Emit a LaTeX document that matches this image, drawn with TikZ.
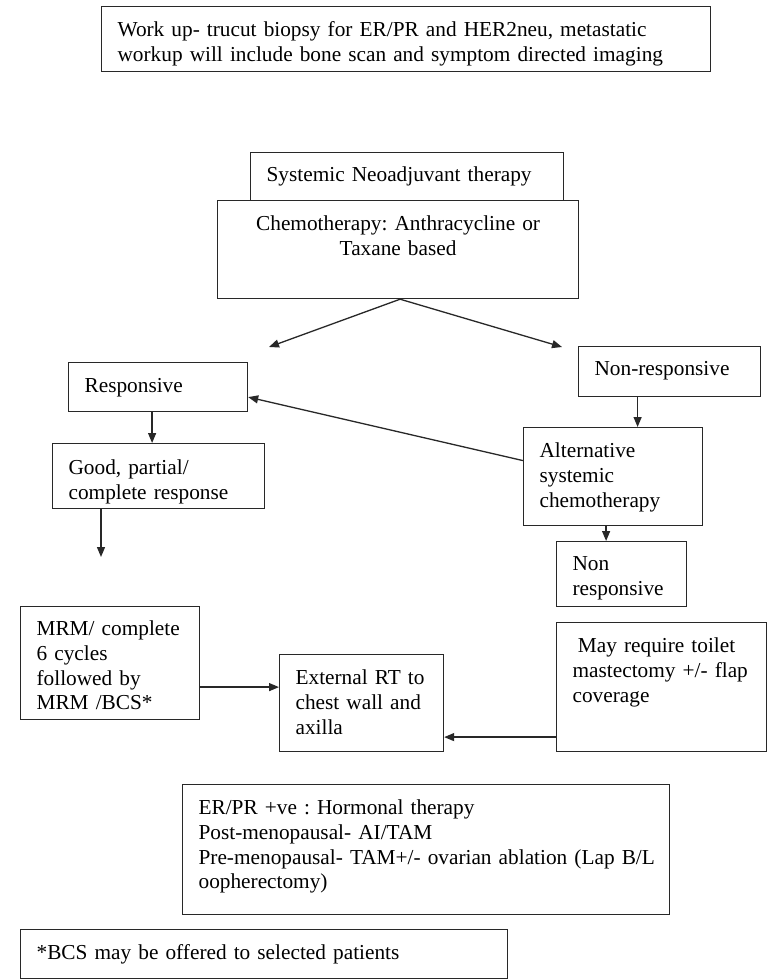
\documentclass[tikz,border=0pt]{standalone}
\usepackage{fontspec}
\setmainfont{Liberation Serif}
\usetikzlibrary{positioning,arrows.meta}
\definecolor{lineColor}{RGB}{40,40,40}
\tikzstyle{chart} = [x = 1pt, y = -1pt]
\tikzstyle{boxStyle} = [draw=lineColor, line width=1.2pt, inner xsep=16pt, inner ysep=0pt, anchor=north west, font=\fontsize{21.3}{24.7}\selectfont\frenchspacing]
\tikzstyle{flowArrow} = [draw=lineColor, line width=1.3pt, -{Triangle[length=10pt,width=8pt]}]
\newcommand{\flowBox}[8]{\node [boxStyle, text width=#4pt, text height=#5pt, text depth=#6pt, align=#7] (#1) at (#2,#3) {#8};}
\newcommand{\nb}[1]{\mbox{#1}}

\begin{document}
\begin{tikzpicture}[chart]
          \fill [white] (0,0) rectangle (767,980);
          \useasboundingbox (0,0) rectangle (767,980);
          \flowBox{workUp}{101}{6}{577}{30}{35}{left}{Work up- trucut biopsy for ER/PR and HER2neu, metastatic\\workup will include bone scan and symptom directed imaging}
          \flowBox{systemicBox}{250}{152}{281}{29}{19}{left}{Systemic Neoadjuvant therapy}
          \flowBox{chemoBox}{217}{200}{329}{30}{68}{center}{Chemotherapy: Anthracycline or\\Taxane based}
          \flowBox{nonResponsive}{578}{346}{150}{29}{21}{left}{Non-responsive}
          \flowBox{responsive}{68}{362}{147}{30}{19}{left}{Responsive}
          \flowBox{goodResponse}{52}{443}{180}{31}{34}{left}{Good, partial/\\complete response}
          \flowBox{altChemo}{523}{427}{147}{30}{68}{left}{Alternative\\systemic\\chemotherapy}
          \flowBox{nonResponsiveTwo}{556}{541}{98}{29}{36}{left}{Non\\responsive}
          \flowBox{mrmBox}{20}{606}{147}{29}{84}{left}{\nb{MRM/ complete}\\6 cycles\\followed by\\MRM /BCS*}
          \flowBox{toiletBox}{556}{622}{178}{30}{99}{left}{\nb{\hspace{0.25em}May require toilet}\\\nb{mastectomy +/- flap}\\coverage}
          \flowBox{rtBox}{279}{654}{132}{30}{67}{left}{\nb{External RT to}\\\nb{chest wall and}\\axilla}
          \flowBox{hormonalBox}{182}{784}{455}{30}{100}{left}{ER/PR +ve : Hormonal therapy\\Post-menopausal- AI/TAM\\\nb{Pre-menopausal- TAM+/- ovarian ablation (Lap B/L}\\oopherectomy)}
          \flowBox{bcsNote}{20}{929}{455}{30}{19}{left}{*BCS may be offered to selected patients}

          \coordinate (leftTip) at (269,347);
          \coordinate (rightTip) at (562,347);
          \coordinate (goodTip) at (101,557);
          \draw [flowArrow] ([xshift=2pt]chemoBox.south) -- (leftTip);
          \draw [flowArrow] ([xshift=2pt]chemoBox.south) -- (rightTip);
          \draw [flowArrow] ([xshift=-6pt]responsive.south) -- ([xshift=-6pt]responsive.south |- goodResponse.north);
          \draw [flowArrow] (goodResponse.south -| goodTip) -- (goodTip);
          \draw [flowArrow] ([xshift=-32pt]nonResponsive.south) -- ([xshift=-32pt]nonResponsive.south |- altChemo.north);
          \draw [flowArrow] ([yshift=16pt]altChemo.west) -- ([yshift=-10pt]responsive.east);
          \draw [flowArrow] ([xshift=-7pt]altChemo.south) -- ([xshift=-7pt]altChemo.south |- nonResponsiveTwo.north);
          \draw [flowArrow] ([yshift=-24pt]mrmBox.east) -- ([yshift=-24pt]mrmBox.east -| rtBox.west);
          \draw [flowArrow] ([yshift=-50pt]toiletBox.west) -- ([yshift=-50pt]toiletBox.west -| rtBox.east);
        \end{tikzpicture}
\end{document}
